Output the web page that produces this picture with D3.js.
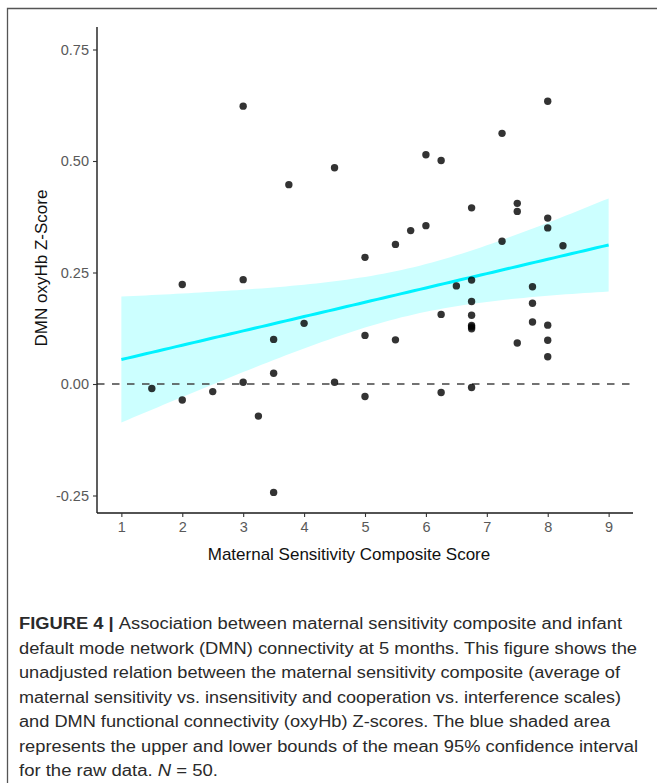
<!DOCTYPE html>
<html>
<head>
<meta charset="utf-8">
<script src="https://cdn.jsdelivr.net/npm/d3@7"></script>
<style>
  html, body { margin: 0; padding: 0; background: #fff; }
  svg { display: block; }
</style>
</head>
<body>
<div id="chart"></div>
<script>
(function () {
  var width  = 657;
  var height = 783;

  // maternal sensitivity composite score (x) and DMN oxyHb z-score (y)
  var sensitivity = [
    1.5, 2, 2, 2.5, 3, 3, 3, 3.25, 3.5, 3.5,
    3.5, 3.75, 4, 4.5, 4.5, 5, 5, 5, 5.5, 5.5,
    5.75, 6, 6, 6.25, 6.25, 6.25, 6.5, 6.75, 6.75, 6.75,
    6.75, 6.75, 6.75, 6.75, 6.75, 7.25, 7.25, 7.5, 7.5, 7.5,
    7.75, 7.75, 7.75, 8, 8, 8, 8, 8, 8, 8.25
  ];
  var zScore = [
    -0.010, 0.223, -0.036, -0.017, 0.623, 0.234, 0.004, -0.072, 0.100, 0.024,
    -0.243, 0.447, 0.136, 0.485, 0.004, 0.284, 0.109, -0.028, 0.313, 0.099,
    0.344, 0.514, 0.355, 0.501, 0.156, -0.019, 0.220, 0.395, 0.233, 0.185,
    0.154, 0.131, 0.128, 0.124, -0.008, 0.562, 0.320, 0.405, 0.387, 0.092,
    0.218, 0.181, 0.139, 0.634, 0.372, 0.350, 0.132, 0.098, 0.061, 0.310
  ];

  var xTicks = [1, 2, 3, 4, 5, 6, 7, 8, 9];
  var yTicks = [-0.25, 0, 0.25, 0.5, 0.75];
  var fitRange = [1, 9];

  var xTitle = "Maternal Sensitivity Composite Score";
  var yTitle = "DMN oxyHb Z-Score";

  var captionLines = [
    [["FIGURE 4 | ", "bold"], ["Association between maternal sensitivity composite and infant", ""]],
    [["default mode network (DMN) connectivity at 5 months. This figure shows the", ""]],
    [["unadjusted relation between the maternal sensitivity composite (average of", ""]],
    [["maternal sensitivity vs. insensitivity and cooperation vs. interference scales)", ""]],
    [["and DMN functional connectivity (oxyHb) Z-scores. The blue shaded area", ""]],
    [["represents the upper and lower bounds of the mean 95% confidence interval", ""]],
    [["for the raw data. ", ""], ["N", "italic"], [" = 50.", ""]]
  ];
  var captionRight = [622, 637, 620, 621, 610, 638, 218];

  var points = sensitivity.map(function (x, i) { return { x: x, y: zScore[i] }; });

  // linear fit with 95% confidence band (like geom_smooth(method = "lm"))
  var n  = points.length;
  var mx = d3.mean(points, function (d) { return d.x; });
  var my = d3.mean(points, function (d) { return d.y; });
  var sxx = d3.sum(points, function (d) { return (d.x - mx) * (d.x - mx); });
  var sxy = d3.sum(points, function (d) { return (d.x - mx) * (d.y - my); });
  var slope = sxy / sxx;
  var icpt  = my - slope * mx;
  var sse = d3.sum(points, function (d) { var r = d.y - (icpt + slope * d.x); return r * r; });
  var s = Math.sqrt(sse / (n - 2));
  var tq = 2.0106;
  var fit = d3.range(0, 81).map(function (i) {
    var x = fitRange[0] + (fitRange[1] - fitRange[0]) * i / 80;
    var yh = icpt + slope * x;
    var se = s * Math.sqrt(1 / n + (x - mx) * (x - mx) / sxx);
    return { x: x, y: yh, lo: yh - tq * se, hi: yh + tq * se };
  });

  var panel = { left: 97, right: 633, top: 27, bottom: 513 };

  var x = d3.scaleLinear().domain([0.6, 9.4]).range([panel.left, panel.right]);
  var y = d3.scaleLinear()
    .domain([-0.25 - (panel.bottom - 495.5) / 446, 0.75 + (49.5 - panel.top) / 446])
    .range([panel.bottom, panel.top]);

  var svg = d3.select("#chart").append("svg")
    .attr("width", width)
    .attr("height", height);

  // figure frame (open to the right and bottom)
  svg.append("path")
    .attr("d", "M7.5," + (height + 5) + "V8.5H" + (width + 5))
    .attr("fill", "none")
    .attr("stroke", "#555")
    .attr("stroke-width", 1.3);

  var g = svg.append("g");

  // confidence band
  g.append("path")
    .datum(fit)
    .attr("fill", "#ccffff")
    .attr("d", d3.area()
      .x(function (d) { return x(d.x); })
      .y0(function (d) { return y(d.lo); })
      .y1(function (d) { return y(d.hi); }));

  // zero line
  g.append("line")
    .attr("x1", panel.left).attr("x2", panel.right + 3)
    .attr("y1", y(0)).attr("y2", y(0))
    .attr("stroke", "#444")
    .attr("stroke-width", 1.6)
    .attr("stroke-dasharray", "7.5,7.5");

  // fitted line
  g.append("path")
    .datum(fit)
    .attr("fill", "none")
    .attr("stroke", "#00f2ff")
    .attr("stroke-width", 3)
    .attr("d", d3.line()
      .x(function (d) { return x(d.x); })
      .y(function (d) { return y(d.y); }));

  // points
  g.append("g")
    .selectAll("circle")
    .data(points)
    .enter().append("circle")
    .attr("cx", function (d) { return x(d.x); })
    .attr("cy", function (d) { return y(d.y); })
    .attr("r", 3.7)
    .attr("fill", "#000")
    .attr("fill-opacity", 0.8);

  // axes
  var xAxis = svg.append("g")
    .attr("transform", "translate(0," + panel.bottom + ")")
    .call(d3.axisBottom(x).tickValues(xTicks).tickFormat(d3.format("d")).tickSize(4).tickPadding(5));
  var yAxis = svg.append("g")
    .attr("transform", "translate(" + panel.left + ",0)")
    .call(d3.axisLeft(y).tickValues(yTicks)
      .tickFormat(function (d) { return d.toFixed(2); })
      .tickSize(4).tickPadding(4));

  [xAxis, yAxis].forEach(function (ax) {
    ax.select(".domain").attr("stroke", "#1a1a1a").attr("stroke-width", 1.4);
    ax.selectAll(".tick line").attr("stroke", "#333").attr("stroke-width", 1.1);
    ax.selectAll(".tick text")
      .attr("fill", "#595959")
      .attr("font-family", "'Liberation Sans', Arial, sans-serif")
      .attr("font-size", "14.5px");
  });
  xAxis.select(".domain").attr("d", "M" + panel.left + ",0H" + panel.right);
  yAxis.select(".domain").attr("d", "M0," + panel.top + "V" + panel.bottom);

  svg.append("text")
    .attr("x", 349)
    .attr("y", 560)
    .attr("text-anchor", "middle")
    .attr("font-family", "'Liberation Sans', Arial, sans-serif")
    .attr("font-size", "17px")
    .attr("fill", "#111")
    .text(xTitle);

  svg.append("text")
    .attr("transform", "translate(47," + 268 + ") rotate(-90)")
    .attr("text-anchor", "middle")
    .attr("font-family", "'Liberation Sans', Arial, sans-serif")
    .attr("font-size", "17px")
    .attr("fill", "#111")
    .text(yTitle);

  // caption
  var cap = svg.append("g")
    .attr("font-family", "'Liberation Sans', Arial, sans-serif")
    .attr("font-size", "16px")
    .attr("fill", "#2a2a2a");

  captionLines.forEach(function (parts, i) {
    var t = cap.append("text")
      .attr("x", 19)
      .attr("y", 629 + i * 24.5);
    parts.forEach(function (p) {
      var sp = t.append("tspan").text(p[0]);
      if (p[1] === "bold") sp.attr("font-weight", "bold");
      if (p[1] === "italic") sp.attr("font-style", "italic");
    });
    if (captionRight[i]) {
      t.attr("textLength", captionRight[i] - 19).attr("lengthAdjust", "spacingAndGlyphs");
    }
  });
})();
</script>
</body>
</html>
